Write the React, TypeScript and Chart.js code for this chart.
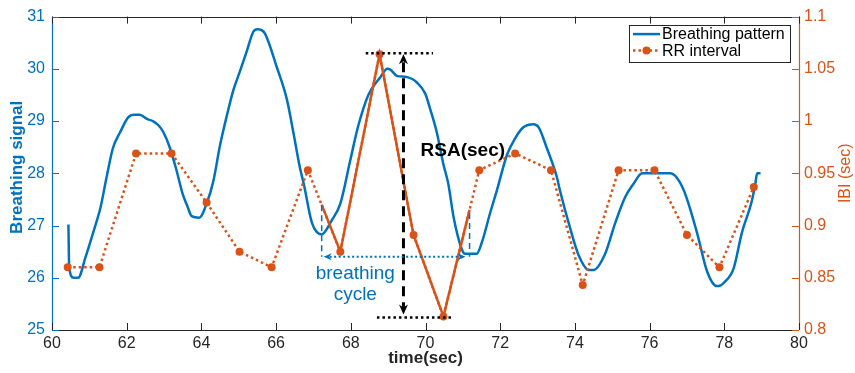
import React, { useEffect, useRef } from "react";
import { Chart, registerables } from "chart.js";

Chart.register(...registerables);

// ---- data ----
const breathT = [
  60.44, 60.46, 60.58, 60.7, 60.9, 61.1, 61.3, 61.46, 61.63, 61.82, 62.04, 62.2, 62.35, 62.54, 62.7, 62.85,
  62.98, 63.16, 63.34, 63.5, 63.62, 63.74, 63.94, 64.14, 64.32, 64.5, 64.68, 64.86, 65.04, 65.22, 65.39,
  65.5, 65.58, 65.7, 66.02, 66.29, 66.46, 66.64, 66.74, 66.96, 67.22, 67.49, 67.72, 67.98, 68.2, 68.47,
  68.79, 68.98, 69.05, 69.25, 69.45, 69.63, 69.75, 69.99, 70.13, 70.3, 70.48, 70.61, 70.75, 70.97, 71.06,
  71.37, 71.51, 71.73, 71.91, 72.18, 72.4, 72.62, 72.89, 73.03, 73.25, 73.52, 73.6, 73.88, 74.1, 74.37,
  74.5, 74.81, 75.08, 75.35, 75.57, 75.8, 76.55, 76.9, 77.27, 77.54, 77.8, 77.85, 77.98, 78.25, 78.47,
  78.74, 78.83, 78.88, 78.97,
];
const breathV = [
  27.02, 26.2, 26.0, 26.0, 26.4, 26.86, 27.35, 27.92, 28.48, 28.78, 29.07, 29.12, 29.12, 29.04, 29.0, 28.92,
  28.79, 28.48, 28.04, 27.6, 27.38, 27.18, 27.15, 27.42, 27.85, 28.54, 29.1, 29.6, 29.97, 30.35, 30.71,
  30.76, 30.75, 30.68, 30.03, 29.41, 28.79, 28.1, 27.8, 27.05, 26.83, 27.1, 27.42, 28.23, 28.91, 29.5,
  29.84, 30.0, 29.99, 29.86, 29.85, 29.81, 29.75, 29.53, 29.22, 28.79, 28.17, 27.8, 27.17, 26.55, 26.46,
  26.46, 26.68, 27.24, 27.67, 28.35, 28.67, 28.88, 28.94, 28.88, 28.48, 27.92, 27.67, 26.93, 26.43, 26.15,
  26.15, 26.46, 27.05, 27.55, 27.8, 28.0, 28.0, 27.7, 26.86, 26.12, 25.84, 25.84, 25.9, 26.18, 26.86,
  27.48, 27.8, 28.0, 28.0,
];

const rrT = [
  60.42, 61.27, 62.25, 63.2, 64.14, 65.02, 65.88, 66.85, 67.72, 68.77, 69.68, 70.48, 71.44, 72.4, 73.36,
  74.21, 75.17, 76.13, 77.0, 77.87, 78.79,
];
const rrV = [
  0.86, 0.86, 0.969, 0.969, 0.922, 0.875, 0.86, 0.953, 0.875, 1.064, 0.891, 0.813, 0.953, 0.969, 0.953,
  0.843, 0.953, 0.953, 0.891, 0.86, 0.937,
];

// highlighted (solid) part of the RR trace
const rsaT = [67.22, 67.72, 68.77, 69.68, 70.48, 71.18];
const rsaV = [0.92, 0.875, 1.064, 0.891, 0.813, 0.915];

const xTicks = [60, 62, 64, 66, 68, 70, 72, 74, 76, 78, 80];
const yTicks = [25, 26, 27, 28, 29, 30, 31];
const y1Ticks = [0.8, 0.85, 0.9, 0.95, 1, 1.05, 1.1];

// annotation anchors (data units)
const rsaTop = { y: 1.065, t0: 68.4, t1: 70.2 };
const rsaBottom = { y: 0.812, t0: 68.7, t1: 70.75 };
const rsaArrowT = 69.41;
const rsaLabel = { t: 71.0, y: 28.43, text: "RSA(sec)" };
const cycle = { t0: 67.22, t1: 71.18, top0: 27.39, top1: 27.24, y: 26.4 };
const cycleLabel = { t: 68.12, y0: 26.07, y1: 25.68, lines: ["breathing", "cycle"] };

const BLUE = "#0072BD";
const ORANGE = "#D95319";
const DARK = "#262626";
const FONT = "'Liberation Sans', Arial, Helvetica, sans-serif";

export default function App() {
  const ref = useRef<HTMLCanvasElement>(null);

  useEffect(() => {
    const canvas = ref.current!;

    const line = (
      ctx: CanvasRenderingContext2D,
      x1: number, y1: number, x2: number, y2: number,
      color: string, width: number, dash: number[] = [], cap: CanvasLineCap = "butt"
    ) => {
      ctx.save();
      ctx.strokeStyle = color;
      ctx.lineWidth = width;
      ctx.setLineDash(dash);
      ctx.lineCap = cap;
      ctx.beginPath();
      ctx.moveTo(x1, y1);
      ctx.lineTo(x2, y2);
      ctx.stroke();
      ctx.restore();
    };
    const head = (
      ctx: CanvasRenderingContext2D, x: number, y: number, dir: "up" | "down" | "left" | "right",
      len: number, half: number, color: string
    ) => {
      ctx.save();
      ctx.fillStyle = color;
      ctx.beginPath();
      ctx.moveTo(x, y);
      if (dir === "up") { ctx.lineTo(x - half, y + len); ctx.lineTo(x, y + len * 0.7); ctx.lineTo(x + half, y + len); }
      if (dir === "down") { ctx.lineTo(x - half, y - len); ctx.lineTo(x, y - len * 0.7); ctx.lineTo(x + half, y - len); }
      if (dir === "left") { ctx.lineTo(x + len, y - half); ctx.lineTo(x + len * 0.7, y); ctx.lineTo(x + len, y + half); }
      if (dir === "right") { ctx.lineTo(x - len, y - half); ctx.lineTo(x - len * 0.7, y); ctx.lineTo(x - len, y + half); }
      ctx.closePath();
      ctx.fill();
      ctx.restore();
    };

    const decor = {
      id: "decor",
      afterDatasetsDraw(chart: any) {
        const ctx: CanvasRenderingContext2D = chart.ctx;
        const X = chart.scales.x, Y = chart.scales.y, Y1 = chart.scales.y1;
        const px = (t: number) => X.getPixelForValue(t);

        // RSA annotation
        const yt = Y1.getPixelForValue(rsaTop.y);
        const yb = Y1.getPixelForValue(rsaBottom.y);
        line(ctx, px(rsaTop.t0), yt, px(rsaTop.t1), yt, "#000", 2.5, [2.5, 3]);
        line(ctx, px(rsaBottom.t0), yb, px(rsaBottom.t1), yb, "#000", 2.5, [2.5, 3]);
        const ax = px(rsaArrowT);
        line(ctx, ax, yt + 9, ax, yb - 9, "#000", 3, [10, 6]);
        head(ctx, ax, yt + 1, "up", 10, 4.5, "#000");
        head(ctx, ax, yb - 3, "down", 10, 4.5, "#000");
        ctx.save();
        ctx.fillStyle = "#000";
        ctx.font = `bold 19px ${FONT}`;
        ctx.textAlign = "center";
        ctx.textBaseline = "middle";
        ctx.fillText(rsaLabel.text, px(rsaLabel.t), Y.getPixelForValue(rsaLabel.y));
        ctx.restore();

        // breathing cycle annotation
        const cy = Y.getPixelForValue(cycle.y);
        const cx0 = px(cycle.t0), cx1 = px(cycle.t1);
        line(ctx, cx0, Y.getPixelForValue(cycle.top0), cx0, cy, BLUE, 1.5, [6, 4]);
        line(ctx, cx1, Y.getPixelForValue(cycle.top1), cx1, cy, BLUE, 1.5, [6, 4]);
        line(ctx, cx0 + 8, cy, cx1 - 8, cy, BLUE, 2, [2, 2.5]);
        head(ctx, cx0 + 2, cy, "left", 8, 3.5, BLUE);
        head(ctx, cx1 - 4, cy, "right", 8, 3.5, BLUE);
        ctx.save();
        ctx.fillStyle = BLUE;
        ctx.font = `19px ${FONT}`;
        ctx.textAlign = "center";
        ctx.textBaseline = "middle";
        ctx.fillText(cycleLabel.lines[0], px(cycleLabel.t), Y.getPixelForValue(cycleLabel.y0));
        ctx.fillText(cycleLabel.lines[1], px(cycleLabel.t), Y.getPixelForValue(cycleLabel.y1));
        ctx.restore();
      },
      afterDraw(chart: any) {
        const ctx: CanvasRenderingContext2D = chart.ctx;
        const a = chart.chartArea;
        const X = chart.scales.x, Y = chart.scales.y, Y1 = chart.scales.y1;
        const L = Math.round(a.left) + 0.5, R = Math.round(a.right) + 0.5;
        const T = Math.round(a.top) + 0.5, B = Math.round(a.bottom) + 0.5;
        const TL = 7;

        // axes lines
        line(ctx, a.left, T, a.right, T, DARK, 1);
        line(ctx, a.left, B, a.right, B, DARK, 1.2);
        line(ctx, L, a.top, L, a.bottom, BLUE, 1.2);
        line(ctx, R, a.top, R, a.bottom, ORANGE, 1.2);

        // inner ticks
        xTicks.forEach((v) => {
          const x = Math.round(X.getPixelForValue(v)) + 0.5;
          line(ctx, x, a.bottom, x, a.bottom - TL, DARK, 1);
          line(ctx, x, a.top, x, a.top + TL, DARK, 1);
        });
        yTicks.forEach((v) => {
          const y = Math.round(Y.getPixelForValue(v)) + 0.5;
          line(ctx, a.left, y, a.left + TL, y, BLUE, 1);
        });
        y1Ticks.forEach((v) => {
          const y = Math.round(Y1.getPixelForValue(v)) + 0.5;
          line(ctx, a.right, y, a.right - TL, y, ORANGE, 1);
        });

        // axis titles
        ctx.save();
        ctx.textAlign = "center";
        ctx.textBaseline = "middle";
        ctx.fillStyle = DARK;
        ctx.font = `bold 17px ${FONT}`;
        ctx.fillText("time(sec)", (a.left + a.right) / 2, 358);
        ctx.translate(17, (a.top + a.bottom) / 2 - 6);
        ctx.rotate(-Math.PI / 2);
        ctx.fillStyle = BLUE;
        ctx.fillText("Breathing signal", 0, 0);
        ctx.restore();
        ctx.save();
        ctx.textAlign = "center";
        ctx.textBaseline = "middle";
        ctx.fillStyle = ORANGE;
        ctx.font = `16px ${FONT}`;
        ctx.translate(846, (a.top + a.bottom) / 2);
        ctx.rotate(-Math.PI / 2);
        ctx.fillText("IBI (sec)", 0, 0);
        ctx.restore();

        // legend
        const lx = a.right - 170, ly = a.top + 8, lw = 161, lh = 37;
        ctx.save();
        ctx.fillStyle = "#fff";
        ctx.fillRect(lx, ly, lw, lh);
        ctx.strokeStyle = DARK;
        ctx.lineWidth = 1;
        ctx.strokeRect(Math.round(lx) + 0.5, Math.round(ly) + 0.5, lw, lh);
        const r1 = ly + 9.5, r2 = ly + 26;
        line(ctx, lx + 4, r1, lx + 31, r1, BLUE, 2.5);
        line(ctx, lx + 4, r2, lx + 31, r2, ORANGE, 2.5, [2.5, 3]);
        ctx.fillStyle = ORANGE;
        ctx.beginPath();
        ctx.arc(lx + 17.5, r2, 4, 0, Math.PI * 2);
        ctx.fill();
        ctx.fillStyle = "#000";
        ctx.font = `16px ${FONT}`;
        ctx.textAlign = "left";
        ctx.textBaseline = "middle";
        ctx.fillText("Breathing pattern", lx + 33, r1 + 0.5);
        ctx.fillText("RR interval", lx + 33, r2 + 0.5);
        ctx.restore();
      },
    };

    const chart = new Chart(canvas, {
      type: "line",
      data: {
        datasets: [
          {
            label: "RSA",
            data: rsaT.map((t, i) => ({ x: t, y: rsaV[i] })),
            yAxisID: "y1",
            borderColor: ORANGE,
            borderWidth: 2.5,
            pointRadius: 0,
            order: 0,
          },
          {
            label: "RR interval",
            data: rrT.map((t, i) => ({ x: t, y: rrV[i] })),
            yAxisID: "y1",
            borderColor: ORANGE,
            backgroundColor: ORANGE,
            borderWidth: 2.5,
            borderDash: [2.5, 3],
            pointRadius: 4,
            pointBorderWidth: 0,
            pointBackgroundColor: ORANGE,
            order: 1,
          },
          {
            label: "Breathing pattern",
            data: breathT.map((t, i) => ({ x: t, y: breathV[i] })),
            yAxisID: "y",
            borderColor: BLUE,
            borderWidth: 2.5,
            borderJoinStyle: "round",
            cubicInterpolationMode: "monotone",
            pointRadius: 0,
            order: 2,
          },
        ],
      },
      options: {
        animation: false,
        responsive: false,
        devicePixelRatio: 1,
        layout: { padding: { top: 8, left: 0, right: 0, bottom: 0 } },
        plugins: { legend: { display: false }, tooltip: { enabled: false } },
        scales: {
          x: {
            type: "linear",
            min: 60,
            max: 80,
            grid: { display: false, drawTicks: false },
            border: { display: false },
            ticks: { stepSize: 2, color: DARK, padding: 4, font: { size: 16, family: FONT } },
            afterFit: (s: any) => { s.height = 43; },
          },
          y: {
            type: "linear",
            position: "left",
            min: 25,
            max: 31,
            grid: { display: false, drawTicks: false },
            border: { display: false },
            ticks: { stepSize: 1, color: BLUE, padding: 7, font: { size: 16, family: FONT } },
            afterFit: (s: any) => { s.width = 52; },
          },
          y1: {
            type: "linear",
            position: "right",
            min: 0.8,
            max: 1.1,
            grid: { display: false, drawTicks: false },
            border: { display: false },
            ticks: {
              stepSize: 0.05,
              color: ORANGE,
              padding: 5,
              font: { size: 16, family: FONT },
              callback: (v: any) => String(+Number(v).toFixed(2)),
            },
            afterFit: (s: any) => { s.width = 56; },
          },
        },
      },
      plugins: [decor],
    } as any);

    return () => chart.destroy();
  }, []);

  return (
    <div style={{ position: "absolute", left: 0, top: 0, width: 855, height: 373, background: "#fff" }}>
      <canvas ref={ref} width={855} height={373} style={{ display: "block" }} />
    </div>
  );
}
